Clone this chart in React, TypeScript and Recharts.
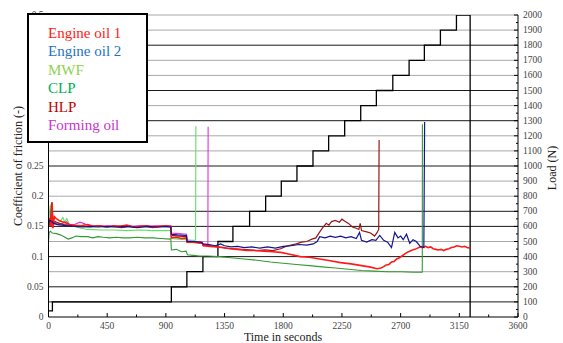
import React from "react";
import { ComposedChart, Line, XAxis, YAxis, CartesianGrid } from "recharts";

type Pt = [number, number];

// time (s) / coefficient of friction
const engineOil1: Pt[] = [
  [0, 0.158], [10, 0.162], [20, 0.15], [28, 0.19], [34, 0.147], [45, 0.166], [60, 0.163], [80, 0.16],
  [100, 0.158], [130, 0.156], [160, 0.153], [200, 0.152], [250, 0.151], [300, 0.153], [350, 0.15],
  [400, 0.151], [450, 0.149], [500, 0.151], [550, 0.15], [600, 0.152], [650, 0.149], [700, 0.15],
  [750, 0.151], [800, 0.149], [850, 0.15], [900, 0.151], [938, 0.15], [942, 0.131], [980, 0.132],
  [1020, 0.13], [1058, 0.131], [1062, 0.124], [1100, 0.124], [1140, 0.123], [1180, 0.122],
  [1186, 0.118], [1240, 0.117], [1290, 0.116], [1340, 0.115], [1390, 0.113], [1450, 0.112],
  [1520, 0.11], [1580, 0.11], [1650, 0.109], [1720, 0.108], [1780, 0.107], [1850, 0.104],
  [1930, 0.1], [2000, 0.099], [2080, 0.096], [2160, 0.093], [2240, 0.09], [2320, 0.088],
  [2400, 0.085], [2460, 0.083], [2520, 0.08], [2550, 0.081], [2590, 0.086], [2610, 0.087],
  [2630, 0.091], [2650, 0.092], [2670, 0.096], [2690, 0.098], [2710, 0.101], [2730, 0.104],
  [2750, 0.107], [2770, 0.109], [2790, 0.111], [2810, 0.112], [2830, 0.114], [2850, 0.116],
  [2870, 0.115], [2890, 0.117], [2910, 0.115], [2930, 0.116], [2950, 0.113], [2970, 0.112],
  [2990, 0.111], [3010, 0.112], [3030, 0.11], [3050, 0.112], [3070, 0.113], [3090, 0.115],
  [3110, 0.116], [3130, 0.118], [3150, 0.117], [3170, 0.116], [3190, 0.117], [3210, 0.115],
  [3232, 0.114],
];

const engineOil2: Pt[] = [
  [0, 0.155], [10, 0.16], [25, 0.158], [40, 0.155], [70, 0.153], [100, 0.152], [150, 0.151],
  [200, 0.15], [260, 0.149], [320, 0.15], [380, 0.149], [450, 0.15], [520, 0.149], [600, 0.15],
  [680, 0.148], [760, 0.15], [840, 0.149], [900, 0.15], [938, 0.149], [942, 0.137], [990, 0.136],
  [1058, 0.135], [1062, 0.125], [1110, 0.125], [1170, 0.124], [1186, 0.121], [1230, 0.12],
  [1280, 0.118], [1320, 0.121], [1350, 0.118], [1400, 0.116], [1450, 0.117], [1500, 0.115],
  [1560, 0.116], [1620, 0.114], [1680, 0.116], [1740, 0.114], [1800, 0.117], [1860, 0.118],
  [1920, 0.12], [1980, 0.119], [2030, 0.121], [2060, 0.125], [2080, 0.133], [2120, 0.131],
  [2160, 0.134], [2200, 0.132], [2240, 0.134], [2280, 0.131], [2320, 0.133], [2360, 0.13],
  [2385, 0.14], [2400, 0.127], [2440, 0.124], [2480, 0.128], [2510, 0.127], [2540, 0.135],
  [2570, 0.127], [2600, 0.124], [2630, 0.115], [2655, 0.14], [2680, 0.131], [2700, 0.134],
  [2720, 0.128], [2745, 0.137], [2770, 0.122], [2795, 0.128], [2820, 0.125], [2850, 0.117],
  [2878, 0.115], [2884, 0.323],
];

const mwf: Pt[] = [
  [0, 0.15], [8, 0.175], [15, 0.186], [22, 0.16], [35, 0.156], [60, 0.155], [90, 0.158],
  [110, 0.165], [125, 0.157], [140, 0.163], [160, 0.153], [200, 0.15], [250, 0.147], [300, 0.145],
  [400, 0.144], [500, 0.144], [600, 0.143], [700, 0.144], [800, 0.143], [900, 0.143], [938, 0.143],
  [942, 0.13], [1000, 0.129], [1060, 0.128], [1100, 0.127], [1128, 0.127], [1130, 0.316],
];

const clp: Pt[] = [
  [0, 0.125], [5, 0.14], [15, 0.142], [30, 0.139], [60, 0.138], [90, 0.136], [120, 0.133],
  [150, 0.129], [180, 0.131], [210, 0.134], [250, 0.133], [300, 0.133], [340, 0.131], [380, 0.133],
  [420, 0.132], [470, 0.131], [520, 0.132], [570, 0.131], [620, 0.131], [680, 0.132], [740, 0.131],
  [800, 0.131], [860, 0.13], [938, 0.129], [942, 0.111], [980, 0.112], [1020, 0.108], [1055, 0.109],
  [1065, 0.103], [1110, 0.102], [1160, 0.101], [1220, 0.101], [1300, 0.1], [1400, 0.098],
  [1500, 0.096], [1600, 0.094], [1700, 0.091], [1800, 0.089], [1900, 0.087], [2000, 0.085],
  [2100, 0.083], [2200, 0.081], [2300, 0.079], [2400, 0.077], [2500, 0.076], [2600, 0.075],
  [2700, 0.075], [2800, 0.074], [2866, 0.074], [2867, 0.319],
];

const hlp: Pt[] = [
  [0, 0.16], [12, 0.15], [25, 0.19], [30, 0.15], [50, 0.158], [80, 0.155], [120, 0.153],
  [160, 0.152], [200, 0.15], [260, 0.15], [320, 0.149], [380, 0.151], [440, 0.149], [500, 0.15],
  [560, 0.148], [620, 0.15], [680, 0.149], [740, 0.15], [800, 0.148], [860, 0.15], [938, 0.149],
  [942, 0.135], [1000, 0.134], [1058, 0.133], [1062, 0.125], [1120, 0.124], [1180, 0.122],
  [1186, 0.119], [1250, 0.118], [1300, 0.116], [1360, 0.114], [1420, 0.113], [1480, 0.112],
  [1540, 0.111], [1600, 0.11], [1660, 0.111], [1720, 0.11], [1780, 0.113], [1820, 0.117],
  [1860, 0.119], [1900, 0.121], [1940, 0.124], [1980, 0.125], [2020, 0.129], [2050, 0.131],
  [2080, 0.141], [2100, 0.147], [2130, 0.155], [2150, 0.152], [2170, 0.158], [2200, 0.16],
  [2230, 0.157], [2250, 0.162], [2270, 0.159], [2300, 0.155], [2330, 0.149], [2360, 0.147],
  [2380, 0.145], [2390, 0.155], [2400, 0.143], [2440, 0.141], [2470, 0.139], [2500, 0.134],
  [2520, 0.14], [2532, 0.145], [2535, 0.293],
];

const formingOil: Pt[] = [
  [0, 0.155], [10, 0.162], [25, 0.157], [45, 0.155], [80, 0.153], [120, 0.156], [140, 0.158],
  [160, 0.152], [200, 0.153], [240, 0.157], [270, 0.155], [300, 0.152], [350, 0.151], [400, 0.15],
  [460, 0.151], [520, 0.15], [580, 0.151], [640, 0.15], [700, 0.151], [760, 0.15], [820, 0.151],
  [880, 0.15], [938, 0.151], [942, 0.139], [1000, 0.138], [1058, 0.137], [1062, 0.126],
  [1120, 0.125], [1180, 0.124], [1186, 0.12], [1222, 0.12], [1224, 0.315],
];

// time (s) / load (N), step after each point
const loadSteps: Pt[] = [
  [0, 40], [30, 100], [942, 200], [1061, 300], [1184, 400], [1299, 500], [1414, 600], [1542, 700],
  [1665, 800], [1785, 900], [1905, 1000], [2028, 1100], [2148, 1200], [2271, 1300], [2394, 1400],
  [2514, 1500], [2640, 1600], [2765, 1700], [2882, 1800], [3005, 1900], [3128, 2000], [3233, 2000],
  [3233, 0],
];

const xTicks = [0, 225, 450, 675, 900, 1125, 1350, 1575, 1800, 2025, 2250, 2475, 2700, 2925, 3150, 3375, 3600];
const cofTicks = [0, 0.05, 0.1, 0.15, 0.2, 0.25, 0.3, 0.35, 0.4, 0.45, 0.5];
const loadTicks = [
  0, 50, 100, 150, 200, 250, 300, 350, 400, 450, 500, 550, 600, 650, 700, 750, 800, 850, 900, 950,
  1000, 1050, 1100, 1150, 1200, 1250, 1300, 1350, 1400, 1450, 1500, 1550, 1600, 1650, 1700, 1750,
  1800, 1850, 1900, 1950, 2000,
];
const darkGrid = [100, 200, 400, 600, 700, 1000, 1300, 1500, 1800];
const lightGrid = [300, 500, 800, 900, 1100, 1200, 1400, 1600, 1700, 1900, 2000];

const SERIF = "Liberation Serif, Tinos, Times New Roman, DejaVu Serif, serif";

const series = [
  { name: "CLP", data: clp, color: "#339933", width: 1.1, legend: "#00b050" },
  { name: "MWF", data: mwf, color: "#5fe05f", width: 1.1, legend: "#92d050" },
  { name: "Forming oil", data: formingOil, color: "#e030e0", width: 1.1, legend: "#cc33cc" },
  { name: "HLP", data: hlp, color: "#9b1515", width: 1.2, legend: "#c00000" },
  { name: "Engine oil 1", data: engineOil1, color: "#ff1a1a", width: 1.6, legend: "#ff1a1a" },
  { name: "Engine oil 2", data: engineOil2, color: "#141490", width: 1.2, legend: "#1f73c4" },
];
const legendOrder = ["Engine oil 1", "Engine oil 2", "MWF", "CLP", "HLP", "Forming oil"];

const toRows = (pts: Pt[]) => pts.map(([t, v]) => ({ t, v }));

const XTick = (p: any) => {
  const { x, y, payload } = p;
  const major = payload.value % 450 === 0;
  return (
    <g>
      <line x1={x} x2={x} y1={y} y2={y - (major ? 4 : 2.5)} stroke="#000" />
      {major && (
        <text x={x} y={y + 12} textAnchor="middle" fontSize={9.5} fill="#444" style={{ fontFamily: SERIF }}>
          {payload.value}
        </text>
      )}
    </g>
  );
};

const CofTick = (p: any) => {
  const { x, y, payload } = p;
  return (
    <text x={x - 5} y={y} dy={3} textAnchor="end" fontSize={9.5} fill="#444" style={{ fontFamily: SERIF }}>
      {String(+payload.value.toFixed(2))}
    </text>
  );
};

const LoadTick = (p: any) => {
  const { x, y, payload } = p;
  const major = payload.value % 100 === 0;
  return (
    <g>
      <line x1={x} x2={x - (major ? 4 : 2)} y1={y} y2={y} stroke="#000" />
      {major && (
        <text x={x + 5} y={y} dy={3} textAnchor="start" fontSize={9.5} fill="#444" style={{ fontFamily: SERIF }}>
          {payload.value}
        </text>
      )}
    </g>
  );
};

export default function App() {
  return (
    <div style={{ position: "absolute", left: 0, top: 0, width: 563, height: 343, background: "#fff", fontFamily: SERIF }}>
      <ComposedChart width={563} height={343} margin={{ top: 15, right: 0, bottom: 0, left: 0 }}>
        <CartesianGrid vertical={false} horizontalValues={lightGrid} stroke="#a8a8a8" strokeWidth={1} />
        <CartesianGrid vertical={false} horizontalValues={darkGrid} stroke="#1a1a1a" strokeWidth={1} />
        <XAxis
          type="number"
          dataKey="t"
          domain={[0, 3600]}
          ticks={xTicks}
          interval={0}
          height={26}
          tickLine={false}
          tickSize={0}
          tickMargin={0}
          tick={XTick}
          stroke="#000"
          allowDataOverflow
          label={() => (
            <text x={283} y={341} textAnchor="middle" fontSize={12} fill="#222" style={{ fontFamily: SERIF }}>
              Time in seconds
            </text>
          )}
        />
        <YAxis
          yAxisId="cof"
          type="number"
          domain={[0, 0.5]}
          ticks={cofTicks}
          interval={0}
          width={48.5}
          tickLine={false}
          tickSize={0}
          tickMargin={0}
          tick={CofTick}
          stroke="#000"
          allowDataOverflow
          label={() => (
            <text x={17.5} y={166} transform="rotate(-90 17.5 166)" textAnchor="middle" dy={4} fontSize={12} fill="#222" style={{ fontFamily: SERIF }}>
              Coefficient of friction (-)
            </text>
          )}
        />
        <YAxis
          orientation="right"
          type="number"
          domain={[0, 2000]}
          ticks={loadTicks}
          interval={0}
          width={45}
          tickLine={false}
          tickSize={0}
          tickMargin={0}
          tick={LoadTick}
          stroke="#000"
          allowDataOverflow
          label={() => (
            <text x={551.5} y={168} transform="rotate(-90 551.5 168)" textAnchor="middle" dy={4} fontSize={12} fill="#222" style={{ fontFamily: SERIF }}>
              Load (N)
            </text>
          )}
        />
        <Line
          data={toRows(loadSteps)}
          dataKey="v"
          type="stepAfter"
          stroke="#000"
          strokeWidth={1.3}
          dot={false}
          isAnimationActive={false}
        />
        {series.map((s) => (
          <Line
            key={s.name}
            yAxisId="cof"
            data={toRows(s.data)}
            dataKey="v"
            name={s.name}
            type="linear"
            stroke={s.color}
            strokeWidth={s.width}
            dot={false}
            isAnimationActive={false}
          />
        ))}
      </ComposedChart>
      <div
        style={{
          position: "absolute",
          left: 27,
          top: 13,
          width: 121,
          height: 130,
          boxSizing: "border-box",
          border: "2px solid #000",
          background: "#fff",
          padding: "9px 0 0 19px",
          fontFamily: SERIF,
          fontSize: 15,
          lineHeight: "18.4px",
        }}
      >
        {legendOrder.map((n) => {
          const s = series.find((q) => q.name === n)!;
          return (
            <div key={n} style={{ color: s.legend, whiteSpace: "nowrap" }}>
              {n}
            </div>
          );
        })}
      </div>
    </div>
  );
}
